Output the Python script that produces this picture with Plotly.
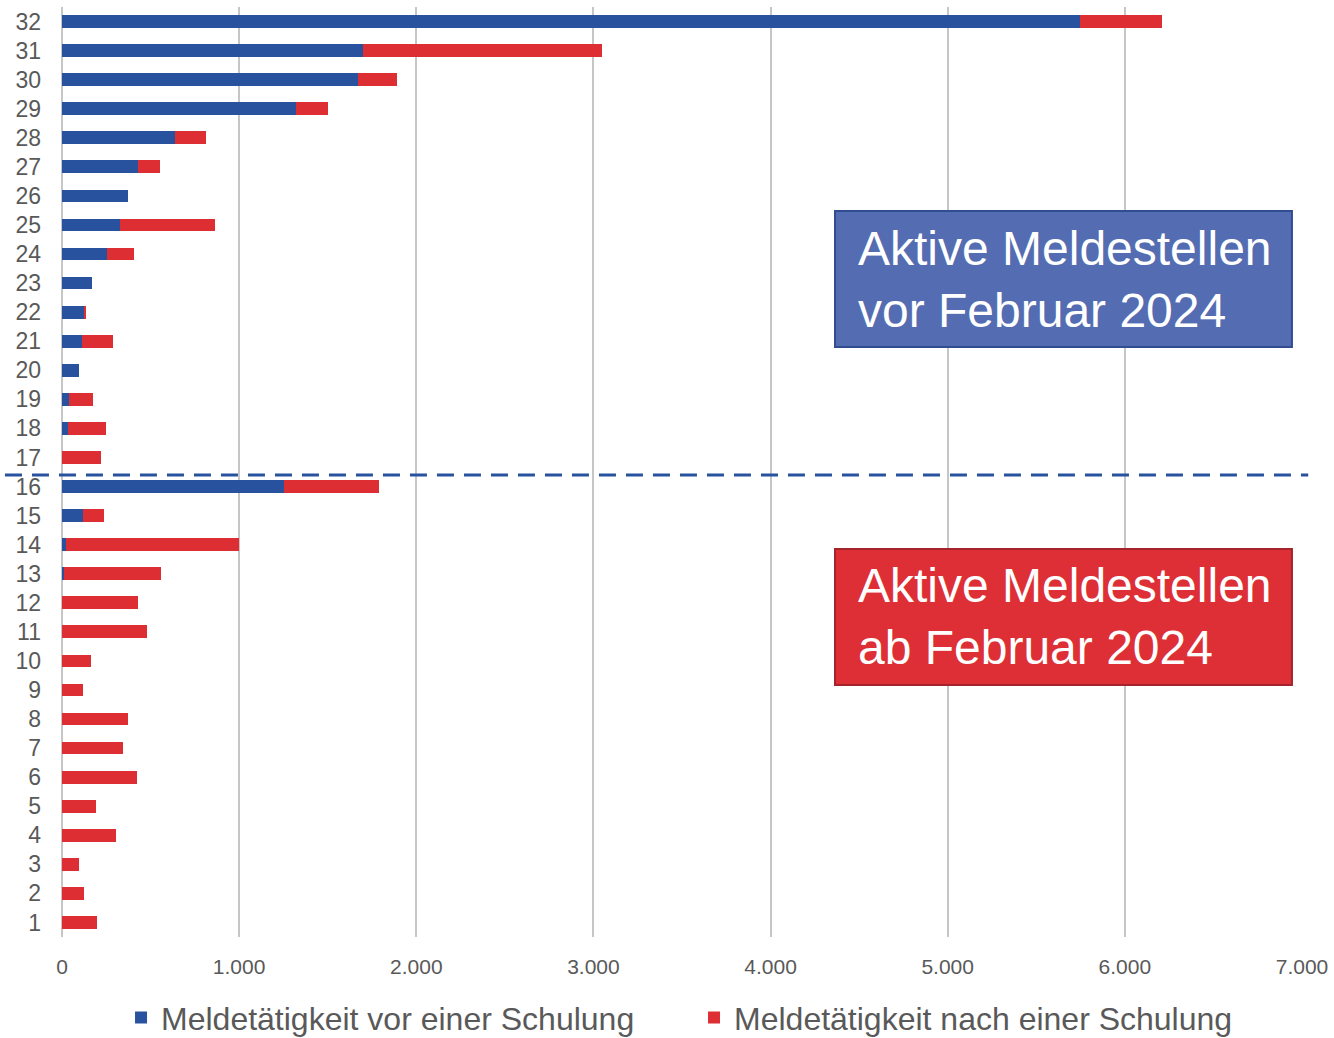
import plotly.graph_objects as go

categories = list(range(1, 33))
vor_schulung = [0, 0, 0, 0, 0, 0, 0, 0, 0, 0, 0, 0, 9, 23, 119, 1253,
                0, 32, 40, 96, 111, 126, 167, 256, 327, 371, 429, 640, 1319, 1673, 1701, 5748]
nach_schulung = [198, 126, 96, 305, 190, 422, 343, 371, 117, 162, 480, 429, 550, 976, 120, 537,
                 218, 215, 135, 0, 179, 8, 0, 151, 535, 0, 122, 171, 181, 217, 1348, 463]
x_ticks = [0, 1000, 2000, 3000, 4000, 5000, 6000, 7000]
x_tick_labels = ["0", "1.000", "2.000", "3.000", "4.000", "5.000", "6.000", "7.000"]

BLUE = "#28529d"
RED = "#dd2e34"
FONT = "Liberation Sans, Arial, sans-serif"

fig = go.Figure()
fig.add_trace(go.Bar(
    y=categories, x=vor_schulung, orientation="h",
    name="Meldetätigkeit vor einer Schulung",
    marker=dict(color=BLUE, line=dict(width=0)),
    width=0.44,
))
fig.add_trace(go.Bar(
    y=categories, x=nach_schulung, orientation="h",
    name="Meldetätigkeit nach einer Schulung",
    marker=dict(color=RED, line=dict(width=0)),
    width=0.44,
))

fig.update_layout(
    barmode="stack",
    width=1334, height=1038,
    margin=dict(l=62, r=32, t=7, b=101, autoexpand=False),
    paper_bgcolor="white", plot_bgcolor="white",
    font=dict(family=FONT, color="#595959"),
    legend=dict(
        orientation="h", x=0.5097, xanchor="center", y=-0.0868, yanchor="middle",
        font=dict(size=32, color="#595959"),
        entrywidth=528, entrywidthmode="pixels",
        traceorder="normal",
    ),
    showlegend=True,
)
fig.update_xaxes(
    range=[0, 7000], tickvals=x_ticks, ticktext=x_tick_labels,
    showgrid=True, gridcolor="#c6c6c6", gridwidth=2,
    zeroline=True, zerolinecolor="#c6c6c6", zerolinewidth=2,
    tickfont=dict(size=21, color="#595959"),
    ticks="", ticklabelstandoff=15, showline=False, automargin=False,
)
fig.update_yaxes(
    range=[0.5, 32.5], tickvals=categories, ticktext=[str(c) for c in categories],
    showgrid=False, zeroline=False,
    tickfont=dict(size=23, color="#595959"),
    ticks="", ticklabelstandoff=20, showline=False, automargin=False,
)

# dashed separator between 16 and 17
fig.add_shape(type="line", xref="paper", yref="y", x0=-0.046, x1=1.005, y0=16.4, y1=16.4,
              line=dict(color=BLUE, width=3, dash="17px,10px"))

# boxes
fig.add_shape(type="rect", xref="paper", yref="paper", x0=0.6234, x1=0.9919, y0=0.6344, y1=0.7806,
              fillcolor="#546cb2", line=dict(color="#2f4d8f", width=2))
fig.add_shape(type="rect", xref="paper", yref="paper", x0=0.6234, x1=0.9919, y0=0.2710, y1=0.4172,
              fillcolor="#dd2f35", line=dict(color="#a5232a", width=2))

fig.add_annotation(xref="paper", yref="paper", x=0.6403, y=0.7075, xanchor="left", yanchor="middle",
                   text="Aktive Meldestellen<br>vor Februar 2024", showarrow=False, align="left",
                   font=dict(size=48, color="white", family=FONT))
fig.add_annotation(xref="paper", yref="paper", x=0.6403, y=0.3441, xanchor="left", yanchor="middle",
                   text="Aktive Meldestellen<br>ab Februar 2024", showarrow=False, align="left",
                   font=dict(size=48, color="white", family=FONT))

fig.write_html(
    "out.html",
    config={"displayModeBar": False},
    post_script="document.body.style.margin='0';document.body.style.overflow='hidden';",
)
